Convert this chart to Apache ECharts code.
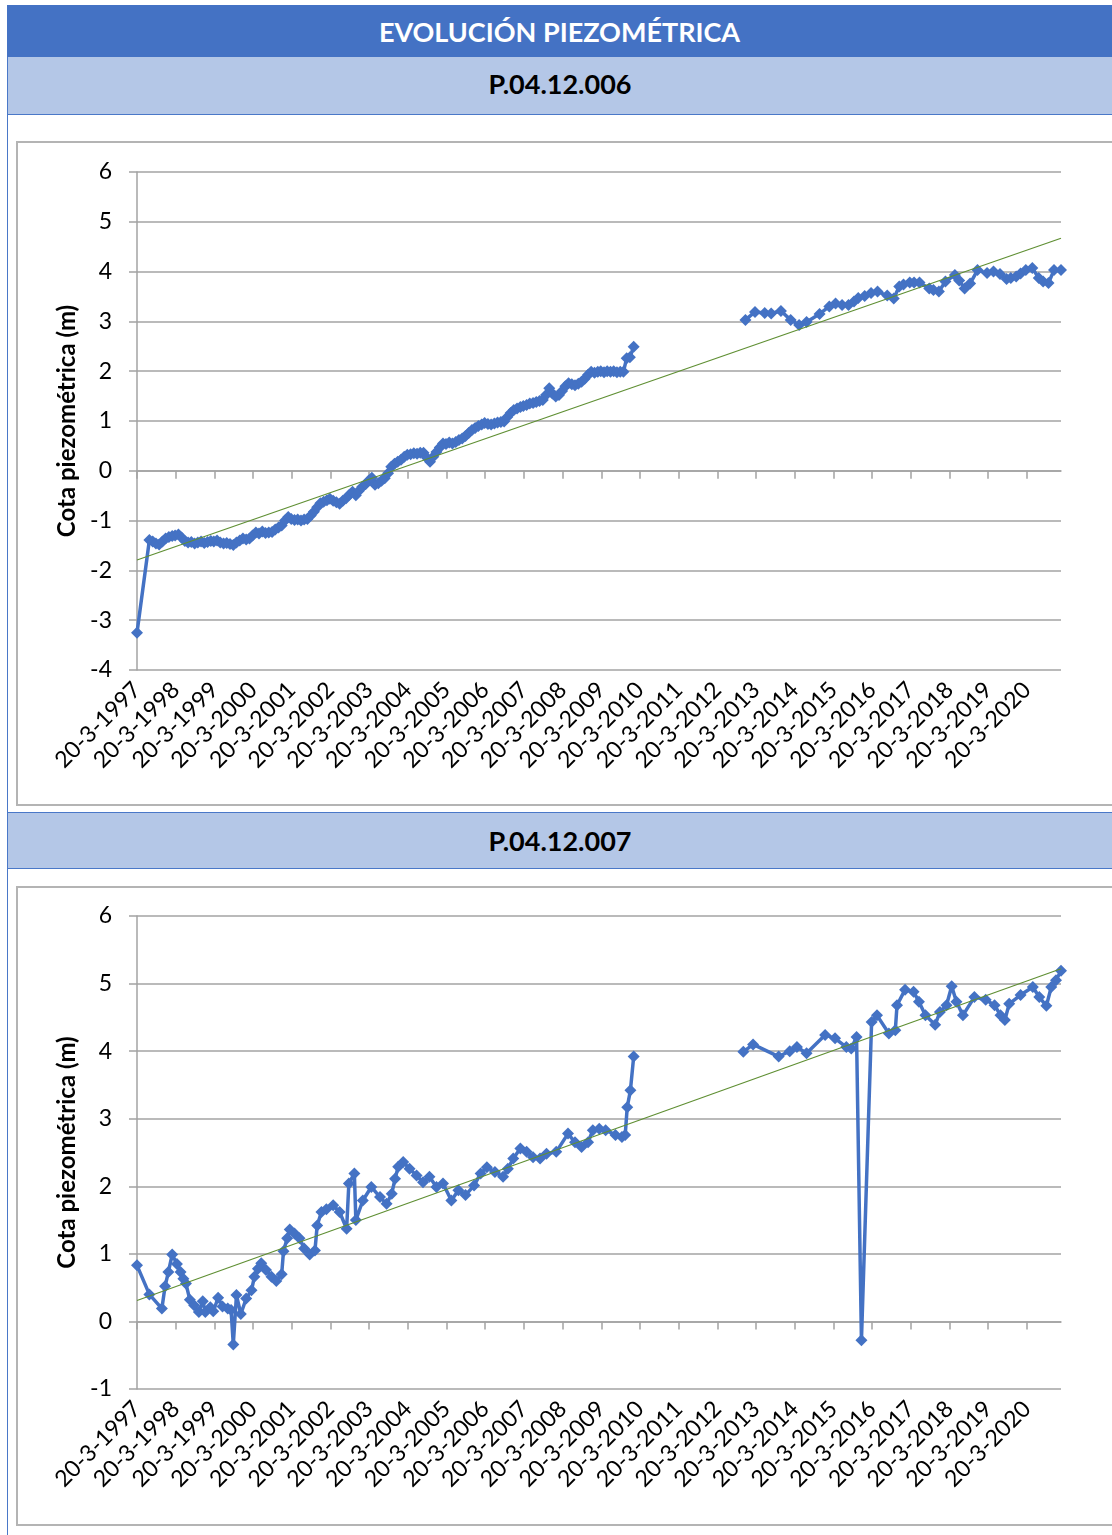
<!DOCTYPE html>
<html>
<head>
<meta charset="utf-8">
<script src="https://cdn.jsdelivr.net/npm/echarts@6/dist/echarts.min.js"></script>
<style>
  body { margin: 0; background: #fff; font-family: Lato, sans-serif; }
  #page { position: relative; width: 1112px; height: 1535px; overflow: hidden; }
  .bar { position: absolute; left: 7px; right: 0; display: flex; align-items: center; justify-content: center; font-weight: bold; box-sizing: border-box; }
  .title { top: 5px; height: 52px; background: #4472C4; color: #fff; font-size: 27px; padding-top: 1px; }
  .sub { background: #B4C7E7; color: #000; font-size: 27px; border-left: 1px solid #4a78c8; border-bottom: 1px solid #4a78c8; }
  .sub1 { top: 57px; height: 58px; padding-bottom: 4px; }
  .sub2 { top: 812px; height: 57px; border-top: 1px solid #4a78c8; }
  .vline { position: absolute; left: 7px; width: 1px; background: #4a78c8; }
  .box { position: absolute; left: 16px; right: -4px; border: 2px solid #b4b4b4; box-sizing: border-box; }
  #chart { position: absolute; left: 0; top: 0; width: 1112px; height: 1535px; z-index: 2; }
</style>
</head>
<body>
<div id="page">
  <div class="bar title">EVOLUCIÓN PIEZOMÉTRICA</div>
  <div class="bar sub sub1">P.04.12.006</div>
  <div class="vline" style="top:115px;height:698px"></div>
  <div class="box" style="top:141px;height:665px"></div>
  <div class="bar sub sub2">P.04.12.007</div>
  <div class="vline" style="top:868px;height:667px"></div>
  <div class="box" style="top:886px;height:640px"></div>
  <div id="chart"></div>
</div>
<script>
// P.04.12.006
const dates006 = [
  '1997-03-20','1997-07-15','1997-08-15','1997-09-15','1997-10-15','1997-11-15','1997-12-15',
  '1998-01-15','1998-02-15','1998-03-15','1998-04-15','1998-05-15','1998-06-15','1998-07-15','1998-08-15','1998-09-15','1998-10-15','1998-11-15','1998-12-15',
  '1999-01-15','1999-02-15','1999-03-15','1999-04-15','1999-05-15','1999-06-15','1999-07-15','1999-08-15','1999-09-15','1999-10-15','1999-11-15','1999-12-15',
  '2000-01-15','2000-02-15','2000-03-15','2000-04-15','2000-05-15','2000-06-15','2000-07-15','2000-08-15','2000-09-15','2000-10-15','2000-11-15','2000-12-15',
  '2001-01-15','2001-02-15','2001-03-15','2001-04-15','2001-05-15','2001-06-15','2001-07-15','2001-08-15','2001-09-15','2001-10-15','2001-11-15','2001-12-15',
  '2002-01-15','2002-02-15','2002-03-15','2002-04-15','2002-05-15','2002-06-15','2002-07-15','2002-08-15','2002-09-15','2002-10-15','2002-11-15','2002-12-15',
  '2003-01-15','2003-02-15','2003-03-15','2003-04-15','2003-05-15','2003-06-15','2003-07-15','2003-08-15','2003-09-15','2003-10-15','2003-11-15','2003-12-15',
  '2004-01-15','2004-02-15','2004-03-15','2004-04-15','2004-05-15','2004-06-15','2004-07-15','2004-08-15','2004-09-15','2004-10-15','2004-11-15','2004-12-15',
  '2005-01-15','2005-02-15','2005-03-15','2005-04-15','2005-05-15','2005-06-15','2005-07-15','2005-08-15','2005-09-15','2005-10-15','2005-11-15','2005-12-15',
  '2006-01-15','2006-02-15','2006-03-15','2006-04-15','2006-05-15','2006-06-15','2006-07-15','2006-08-15','2006-09-15','2006-10-15','2006-11-15','2006-12-15',
  '2007-01-15','2007-02-15','2007-03-15','2007-04-15','2007-05-15','2007-06-15','2007-07-15','2007-08-15','2007-09-15','2007-10-15','2007-11-15','2007-12-15',
  '2008-01-15','2008-02-15','2008-03-15','2008-04-15','2008-05-15','2008-06-15','2008-07-15','2008-08-15','2008-09-15','2008-10-15','2008-11-15','2008-12-15',
  '2009-01-15','2009-02-15','2009-03-15','2009-04-15','2009-05-15','2009-06-15','2009-07-15','2009-08-15','2009-09-15','2009-10-15','2009-11-15','2009-12-15',
  '2010-01-20',
  '2011-06-01',
  '2012-12-10','2013-03-10','2013-06-10','2013-08-10','2013-11-10','2014-02-10','2014-05-01','2014-07-10','2014-11-10',
  '2015-02-10','2015-04-10','2015-06-10','2015-08-10','2015-10-01','2015-11-10','2016-01-10','2016-03-10','2016-05-10','2016-08-10','2016-10-10','2016-12-01',
  '2017-01-10','2017-03-10','2017-04-20','2017-06-10','2017-09-10','2017-10-20','2017-12-10','2018-02-10','2018-05-10','2018-06-20','2018-08-10','2018-10-01','2018-12-10',
  '2019-03-10','2019-05-10','2019-07-10','2019-09-10','2019-10-20','2019-12-10','2020-01-20','2020-03-10','2020-05-10','2020-07-10','2020-08-20','2020-10-10','2020-12-01','2021-02-05'
];
const values006 = [
  -3.25,-1.39,-1.42,-1.46,-1.48,-1.42,-1.36,
  -1.33,-1.31,-1.30,-1.28,-1.34,-1.41,-1.44,-1.43,-1.46,-1.44,-1.42,-1.45,
  -1.43,-1.41,-1.42,-1.40,-1.44,-1.46,-1.45,-1.47,-1.49,-1.44,-1.40,-1.36,
  -1.38,-1.36,-1.30,-1.24,-1.26,-1.22,-1.25,-1.24,-1.23,-1.18,-1.14,-1.10,
  -1.00,-0.93,-0.97,-0.99,-0.98,-1.00,-0.98,-0.97,-0.90,-0.82,-0.73,-0.65,
  -0.62,-0.59,-0.56,-0.60,-0.63,-0.66,-0.60,-0.55,-0.48,-0.42,-0.49,-0.40,
  -0.32,-0.27,-0.20,-0.14,-0.28,-0.25,-0.20,-0.15,-0.05,0.08,0.14,0.18,
  0.22,0.28,0.32,0.33,0.35,0.34,0.36,0.36,0.26,0.18,0.28,0.38,
  0.47,0.55,0.54,0.57,0.55,0.58,0.62,0.65,0.70,0.76,0.82,0.86,
  0.90,0.93,0.96,0.94,0.93,0.95,0.97,0.98,0.99,1.08,1.16,1.22,
  1.25,1.28,1.30,1.32,1.35,1.36,1.38,1.40,1.42,1.52,1.66,1.55,
  1.49,1.52,1.60,1.70,1.76,1.74,1.72,1.75,1.79,1.85,1.93,1.99,
  1.97,1.99,2.00,1.98,2.00,1.99,2.00,1.98,1.99,1.99,2.26,2.28,
  2.49,
  null,
  3.03,3.19,3.17,3.16,3.21,3.03,2.93,2.99,3.15,
  3.30,3.36,3.33,3.33,3.40,3.47,3.51,3.57,3.60,3.52,3.46,3.70,
  3.74,3.78,3.78,3.78,3.66,3.63,3.60,3.80,3.93,3.82,3.66,3.76,4.03,
  3.97,4.00,3.95,3.85,3.87,3.90,3.96,4.03,4.07,3.87,3.80,3.77,4.03,4.03
];
const trendDates006 = ['1997-03-20', '2021-02-05'];
const trendValues006 = [-1.79, 4.67];

// P.04.12.007
const dates007 = [
  '1997-03-20','1997-07-15','1997-11-10','1997-12-10','1998-01-10','1998-02-15','1998-04-01','1998-05-05','1998-06-01','1998-06-25',
  '1998-08-01','1998-09-10','1998-10-25','1998-12-01','1998-12-25','1999-02-10','1999-03-10','1999-04-25','1999-06-05','1999-07-25',
  '1999-08-25','1999-09-15','1999-10-15','1999-11-25','2000-01-15','2000-03-05','2000-04-01','2000-05-05','2000-06-05','2000-07-20',
  '2000-09-10','2000-10-25','2000-12-15','2001-01-01','2001-02-05','2001-03-01','2001-04-15','2001-06-01','2001-07-15','2001-09-05',
  '2001-10-25','2001-11-15','2001-12-25','2002-02-10','2002-04-15','2002-06-15','2002-08-20','2002-09-10','2002-11-01','2002-11-15',
  '2003-01-20','2003-04-10','2003-07-01','2003-09-01','2003-10-20','2003-11-20','2003-12-20','2004-02-05','2004-04-05','2004-06-10',
  '2004-08-10','2004-10-10','2004-12-15','2005-02-15','2005-05-05','2005-07-10','2005-09-15','2005-12-05','2006-02-05','2006-04-05',
  '2006-06-20','2006-09-05','2006-10-20','2006-12-10','2007-02-15','2007-04-15','2007-06-15','2007-08-20','2007-10-20','2008-01-20',
  '2008-05-10','2008-07-15','2008-09-15','2008-11-15','2008-12-30','2009-03-01','2009-04-30','2009-08-01','2009-10-01','2009-11-01',
  '2009-11-20','2009-12-20','2010-01-20',
  '2011-06-01',
  '2012-11-20','2013-02-20','2013-10-20','2014-02-01','2014-04-10','2014-07-10','2015-01-01','2015-04-05','2015-07-20','2015-09-05',
  '2015-10-25','2015-12-10','2016-03-15','2016-05-05','2016-08-25','2016-10-25','2016-11-10','2017-01-25','2017-04-15','2017-06-05',
  '2017-08-05','2017-11-05','2017-12-20','2018-02-20','2018-04-10','2018-05-25','2018-07-25','2018-11-10','2019-02-25','2019-05-20',
  '2019-07-15','2019-08-25','2019-10-05','2020-01-20','2020-05-15','2020-07-15','2020-09-20','2020-11-05','2020-12-20','2021-02-05'
];
const values007 = [
  0.83,0.40,0.19,0.52,0.73,0.99,0.85,0.73,0.63,0.56,
  0.32,0.24,0.14,0.30,0.14,0.21,0.15,0.35,0.22,0.19,
  0.17,-0.34,0.39,0.11,0.34,0.46,0.66,0.78,0.86,0.76,
  0.66,0.60,0.70,1.04,1.23,1.36,1.30,1.23,1.08,0.99,
  1.05,1.42,1.62,1.66,1.72,1.62,1.37,2.04,2.19,1.50,
  1.79,1.99,1.84,1.74,1.89,2.11,2.29,2.36,2.26,2.16,
  2.06,2.14,1.99,2.04,1.79,1.94,1.87,2.01,2.19,2.28,
  2.21,2.14,2.26,2.41,2.56,2.51,2.43,2.41,2.48,2.51,
  2.78,2.65,2.58,2.65,2.83,2.85,2.83,2.76,2.73,2.76,
  3.17,3.42,3.92,
  null,
  3.99,4.10,3.92,4.00,4.06,3.97,4.24,4.19,4.06,4.04,
  4.21,-0.28,4.43,4.53,4.26,4.31,4.68,4.91,4.88,4.73,
  4.53,4.39,4.58,4.68,4.96,4.73,4.53,4.80,4.76,4.68,
  4.53,4.46,4.70,4.83,4.95,4.80,4.67,4.95,5.05,5.19
];
const trendDates007 = ['1997-03-20', '2021-02-05'];
const trendValues007 = [0.31, 5.22];

// eje de fechas: años contados desde 20-3-1997
const startDate = '1997-03-20';
const endDate = '2021-02-05';
const tickYears = [1997,1998,1999,2000,2001,2002,2003,2004,2005,2006,2007,2008,2009,2010,2011,2012,2013,2014,2015,2016,2017,2018,2019,2020];

const yearMs = 365.25 * 86400000;
const toT = d => {
  const p = d.split('-').map(Number);
  const s = startDate.split('-').map(Number);
  return (Date.UTC(p[0], p[1] - 1, p[2]) - Date.UTC(s[0], s[1] - 1, s[2])) / yearMs;
};
const pairs = (ds, vs) => ds.map((d, i) => [toT(d), vs[i] === null ? '-' : vs[i]]);
const tickValues = tickYears.map(y => toT(y + '-03-20'));
const tMax = toT(endDate);

const blue = '#4472C4';
const green = '#5f8f33';
const grey = '#a3a3a3';
const font = 'Lato';

const makeX = idx => ({
  type: 'value', gridIndex: idx, min: 0, max: tMax,
  splitLine: { show: false },
  axisLine: { lineStyle: { color: grey, width: 1.5 } },
  axisTick: { show: true, customValues: tickValues, length: 8, lineStyle: { color: grey, width: 1.5 } },
  axisLabel: {
    customValues: tickValues, rotate: 45, margin: 16,
    fontFamily: font, fontSize: 23, color: '#000',
    formatter: v => '20-3-' + (1997 + Math.round(v))
  }
});
const makeY = (idx, min) => ({
  type: 'value', gridIndex: idx, min: min, max: 6, interval: 1,
  name: 'Cota piezométrica (m)', nameLocation: 'middle', nameGap: 58, nameRotate: 90,
  nameTextStyle: { fontFamily: font, fontSize: 24, fontWeight: 'bold', color: '#000' },
  axisLine: { show: true, lineStyle: { color: grey, width: 1.5 } },
  axisTick: { show: true, length: 8, lineStyle: { color: grey, width: 1.5 } },
  splitLine: { show: true, lineStyle: { color: grey, width: 1.5 } },
  axisLabel: { fontFamily: font, fontSize: 23, color: '#000', margin: 25 }
});
const dataSeries = (idx, ds, vs) => ({
  type: 'line', xAxisIndex: idx, yAxisIndex: idx,
  data: pairs(ds, vs), connectNulls: false,
  symbol: 'diamond', symbolSize: 12,
  itemStyle: { color: blue }, lineStyle: { color: blue, width: 3.5 }, z: 3
});
const trendSeries = (idx, ds, vs) => ({
  type: 'line', xAxisIndex: idx, yAxisIndex: idx,
  data: pairs(ds, vs), symbol: 'none',
  lineStyle: { color: green, width: 1.2 }, z: 4
});

const chart = echarts.init(document.getElementById('chart'));
chart.setOption({
  animation: false,
  backgroundColor: 'transparent',
  grid: [
    { left: 137, top: 172, width: 924, height: 498 },
    { left: 137, top: 916, width: 924, height: 473 }
  ],
  xAxis: [makeX(0), makeX(1)],
  yAxis: [makeY(0, -4), makeY(1, -1)],
  series: [
    dataSeries(0, dates006, values006),
    trendSeries(0, trendDates006, trendValues006),
    dataSeries(1, dates007, values007),
    trendSeries(1, trendDates007, trendValues007)
  ]
});
</script>
</body>
</html>
